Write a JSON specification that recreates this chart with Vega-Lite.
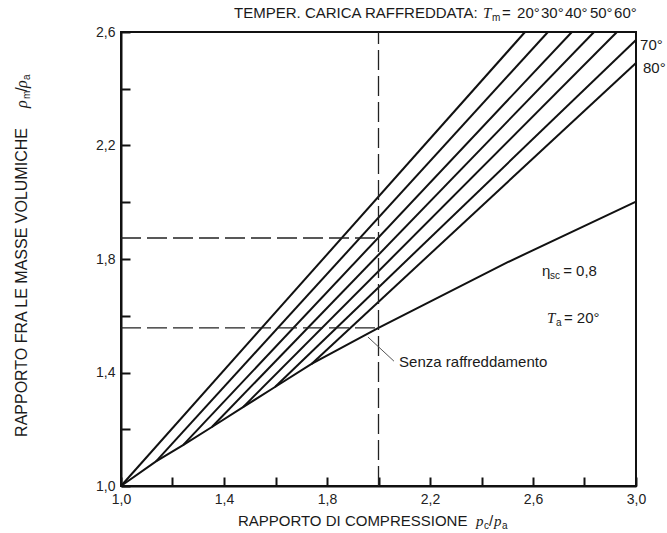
{
  "$schema": "https://vega.github.io/schema/vega-lite/v6.json",
  "width": 515,
  "height": 454,
  "autosize": "none",
  "padding": {"left": 121, "top": 32, "right": 31, "bottom": 47},
  "background": "white",
  "config": {
    "view": {"stroke": "#111", "strokeWidth": 2},
    "font": "Liberation Sans",
    "axis": {
      "grid": false,
      "domainColor": "#111",
      "domainWidth": 2,
      "ticks": true,
      "tickColor": "#111",
      "tickWidth": 2,
      "tickSize": -9,
      "labelFont": "Liberation Sans",
      "labelFontSize": 14,
      "labelColor": "#222",
      "title": null
    }
  },
  "datasets": {
    "curves": [
      {"serie": "20", "x": 1.0, "y": 1.0},
      {"serie": "20", "x": 2.569, "y": 2.6},
      {"serie": "30", "x": 1.136, "y": 1.087},
      {"serie": "30", "x": 2.658, "y": 2.6},
      {"serie": "40", "x": 1.241, "y": 1.144},
      {"serie": "40", "x": 2.751, "y": 2.6},
      {"serie": "50", "x": 1.353, "y": 1.208},
      {"serie": "50", "x": 2.837, "y": 2.6},
      {"serie": "60", "x": 1.474, "y": 1.278},
      {"serie": "60", "x": 2.926, "y": 2.6},
      {"serie": "70", "x": 1.598, "y": 1.349},
      {"serie": "70", "x": 3.0, "y": 2.572},
      {"serie": "80", "x": 1.74, "y": 1.43},
      {"serie": "80", "x": 3.0, "y": 2.491},
      {"serie": "senza", "x": 1.0, "y": 1.0},
      {"serie": "senza", "x": 1.136, "y": 1.087},
      {"serie": "senza", "x": 1.241, "y": 1.144},
      {"serie": "senza", "x": 1.353, "y": 1.208},
      {"serie": "senza", "x": 1.474, "y": 1.278},
      {"serie": "senza", "x": 1.598, "y": 1.349},
      {"serie": "senza", "x": 1.74, "y": 1.43},
      {"serie": "senza", "x": 2.0, "y": 1.557},
      {"serie": "senza", "x": 2.5, "y": 1.788},
      {"serie": "senza", "x": 3.0, "y": 2.002}
    ],
    "guides": [
      {"x": 2.0, "y": 1.0, "x2": 2.0, "y2": 2.6},
      {"x": 1.0, "y": 1.874, "x2": 2.0, "y2": 1.874},
      {"x": 1.0, "y": 1.557, "x2": 2.0, "y2": 1.557}
    ],
    "leader": [
      {"x": 1.959, "y": 1.525, "x2": 2.06, "y2": 1.44}
    ],
    "texts": [
      {"role": "label", "x": 1.439, "y": 2.649, "text": "TEMPER. CARICA RAFFREDDATA:"},
      {"role": "italic", "x": 2.406, "y": 2.649, "text": "T"},
      {"role": "sub", "x": 2.441, "y": 2.639, "text": "m"},
      {"role": "label", "x": 2.48, "y": 2.649, "text": "="},
      {"role": "label", "x": 2.538, "y": 2.649, "text": "20°"},
      {"role": "label", "x": 2.631, "y": 2.649, "text": "30°"},
      {"role": "label", "x": 2.724, "y": 2.649, "text": "40°"},
      {"role": "label", "x": 2.821, "y": 2.649, "text": "50°"},
      {"role": "label", "x": 2.915, "y": 2.649, "text": "60°"},
      {"role": "label", "x": 3.016, "y": 2.537, "text": "70°"},
      {"role": "label", "x": 3.027, "y": 2.456, "text": "80°"},
      {"role": "label", "x": 2.635, "y": 1.74, "text": "η"},
      {"role": "sub", "x": 2.666, "y": 1.73, "text": "sc"},
      {"role": "label", "x": 2.717, "y": 1.74, "text": "= 0,8"},
      {"role": "italic", "x": 2.654, "y": 1.574, "text": "T"},
      {"role": "sub", "x": 2.689, "y": 1.564, "text": "a"},
      {"role": "label", "x": 2.72, "y": 1.574, "text": "= 20°"},
      {"role": "label", "x": 2.08, "y": 1.419, "text": "Senza raffreddamento"},
      {"role": "label", "x": 1.454, "y": 0.859, "text": "RAPPORTO DI COMPRESSIONE"},
      {"role": "italic", "x": 2.379, "y": 0.859, "text": "p"},
      {"role": "sub", "x": 2.41, "y": 0.848, "text": "c"},
      {"role": "label", "x": 2.429, "y": 0.859, "text": "/"},
      {"role": "italic", "x": 2.449, "y": 0.859, "text": "p"},
      {"role": "sub", "x": 2.48, "y": 0.848, "text": "a"},
      {"role": "vlabel", "x": 0.635, "y": 1.173, "text": "RAPPORTO FRA LE MASSE VOLUMICHE"},
      {"role": "vitalic", "x": 0.635, "y": 2.332, "text": "ρ"},
      {"role": "vsub", "x": 0.6466, "y": 2.364, "text": "m"},
      {"role": "vlabel", "x": 0.635, "y": 2.389, "text": "/"},
      {"role": "vitalic", "x": 0.635, "y": 2.403, "text": "ρ"},
      {"role": "vsub", "x": 0.6466, "y": 2.431, "text": "a"}
    ]
  },
  "encoding": {
    "x": {
      "field": "x",
      "type": "quantitative",
      "scale": {"domain": [1, 3], "nice": false, "zero": false},
      "axis": {
        "values": [1.0, 1.2, 1.4, 1.6, 1.8, 2.0, 2.2, 2.4, 2.6, 2.8, 3.0],
        "labelExpr": "indexof(['1.0','1.4','1.8','2.2','2.6','3.0'], format(datum.value, '.1f')) >= 0 ? replace(format(datum.value, '.1f'), '.', ',') : ''",
        "labelPadding": 15,
        "labelFlush": false
      }
    },
    "y": {
      "field": "y",
      "type": "quantitative",
      "scale": {"domain": [1, 2.6], "nice": false, "zero": false},
      "axis": {
        "values": [1.0, 1.2, 1.4, 1.6, 1.8, 2.0, 2.2, 2.4, 2.6],
        "labelExpr": "indexof(['1.0','1.4','1.8','2.2','2.6'], format(datum.value, '.1f')) >= 0 ? replace(format(datum.value, '.1f'), '.', ',') : ''",
        "labelPadding": 15,
        "labelFlush": false
      }
    }
  },
  "layer": [
    {
      "data": {"name": "curves"},
      "mark": {"type": "line", "color": "#111", "strokeWidth": 2},
      "encoding": {"detail": {"field": "serie"}}
    },
    {
      "data": {"name": "guides"},
      "mark": {"type": "rule", "color": "#222", "strokeWidth": 1.3, "strokeDash": [20, 6]},
      "encoding": {"x2": {"field": "x2"}, "y2": {"field": "y2"}}
    },
    {
      "data": {"name": "leader"},
      "mark": {"type": "rule", "color": "#555", "strokeWidth": 1},
      "encoding": {"x2": {"field": "x2"}, "y2": {"field": "y2"}}
    },
    {
      "data": {"name": "texts"},
      "transform": [{"filter": "datum.role === 'label'"}],
      "mark": {"type": "text", "align": "left", "baseline": "alphabetic", "fontSize": 15, "color": "#1a1a1a", "font": "Liberation Sans"},
      "encoding": {"text": {"field": "text"}}
    },
    {
      "data": {"name": "texts"},
      "transform": [{"filter": "datum.role === 'italic'"}],
      "mark": {"type": "text", "align": "left", "baseline": "alphabetic", "fontSize": 15, "fontStyle": "italic", "color": "#1a1a1a", "font": "Liberation Serif"},
      "encoding": {"text": {"field": "text"}}
    },
    {
      "data": {"name": "texts"},
      "transform": [{"filter": "datum.role === 'sub'"}],
      "mark": {"type": "text", "align": "left", "baseline": "alphabetic", "fontSize": 10, "color": "#1a1a1a", "font": "Liberation Sans"},
      "encoding": {"text": {"field": "text"}}
    },
    {
      "data": {"name": "texts"},
      "transform": [{"filter": "datum.role === 'vlabel'"}],
      "mark": {"type": "text", "align": "left", "baseline": "alphabetic", "angle": 270, "fontSize": 16, "color": "#1a1a1a", "font": "Liberation Sans"},
      "encoding": {"text": {"field": "text"}}
    },
    {
      "data": {"name": "texts"},
      "transform": [{"filter": "datum.role === 'vitalic'"}],
      "mark": {"type": "text", "align": "left", "baseline": "alphabetic", "angle": 270, "fontSize": 16, "fontStyle": "italic", "color": "#1a1a1a", "font": "Liberation Serif"},
      "encoding": {"text": {"field": "text"}}
    },
    {
      "data": {"name": "texts"},
      "transform": [{"filter": "datum.role === 'vsub'"}],
      "mark": {"type": "text", "align": "left", "baseline": "alphabetic", "angle": 270, "fontSize": 10, "color": "#1a1a1a", "font": "Liberation Sans"},
      "encoding": {"text": {"field": "text"}}
    }
  ]
}
